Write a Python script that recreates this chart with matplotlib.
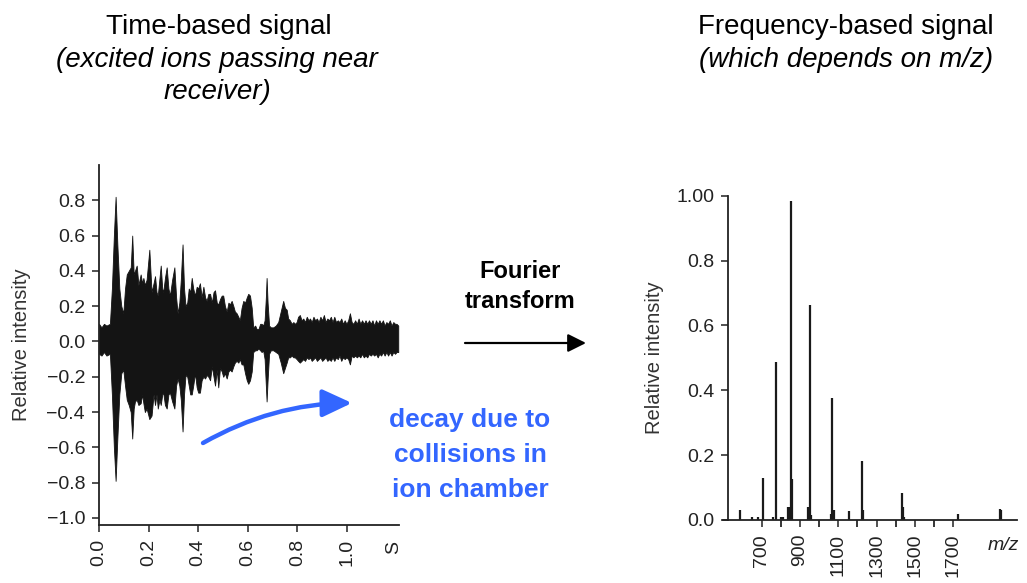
import numpy as np
import matplotlib
matplotlib.use('Agg')
import matplotlib.pyplot as plt
from matplotlib.patches import FancyArrowPatch

plt.rcParams['font.family'] = ['Liberation Sans', 'DejaVu Sans']

# time-domain transient: envelope (seconds, upper, lower)
t_sec = [0.000, 0.010, 0.020, 0.030, 0.044, 0.052, 0.060, 0.067, 0.074, 0.082,
         0.090, 0.098, 0.105, 0.112, 0.120, 0.128, 0.134, 0.140, 0.145, 0.152,
         0.159, 0.168, 0.174, 0.179, 0.185, 0.192, 0.203, 0.212, 0.220, 0.226,
         0.232, 0.237, 0.244, 0.249, 0.255, 0.259, 0.266, 0.273, 0.280, 0.286,
         0.295, 0.304, 0.311, 0.317, 0.324, 0.330, 0.337, 0.343, 0.349, 0.356,
         0.362, 0.368, 0.374, 0.380, 0.387, 0.394, 0.400, 0.407, 0.414, 0.421,
         0.428, 0.434, 0.441, 0.448, 0.455, 0.462, 0.468, 0.475, 0.481, 0.488,
         0.495, 0.501, 0.508, 0.515, 0.522, 0.528, 0.535, 0.542, 0.548, 0.555,
         0.562, 0.568, 0.575, 0.582, 0.589, 0.596, 0.602, 0.609, 0.616, 0.622,
         0.630, 0.636, 0.643, 0.650, 0.656, 0.662, 0.668, 0.673, 0.676, 0.680,
         0.686, 0.693, 0.703, 0.713, 0.723, 0.733, 0.743, 0.750, 0.757, 0.763,
         0.770, 0.777, 0.784, 0.790, 0.797, 0.803, 0.810, 0.817, 0.824, 0.831,
         0.838, 0.845, 0.851, 0.858, 0.865, 0.872, 0.879, 0.886, 0.893, 0.900,
         0.907, 0.914, 0.921, 0.928, 0.935, 0.942, 0.949, 0.956, 0.963, 0.970,
         0.977, 0.984, 0.991, 0.998, 1.005, 1.012, 1.019, 1.026, 1.033, 1.040,
         1.047, 1.054, 1.061, 1.068, 1.075, 1.082, 1.089, 1.096, 1.103, 1.110,
         1.117, 1.124, 1.131, 1.138, 1.145, 1.152, 1.159, 1.166, 1.173, 1.180,
         1.187, 1.194, 1.200, 1.207]
upper = [0.10, 0.08, 0.10, 0.09, 0.10, 0.30, 0.60, 0.82, 0.55, 0.30,
         0.20, 0.16, 0.30, 0.38, 0.40, 0.42, 0.60, 0.38, 0.40, 0.43,
         0.32, 0.38, 0.33, 0.36, 0.32, 0.35, 0.52, 0.28, 0.33, 0.37,
         0.28, 0.26, 0.36, 0.43, 0.30, 0.28, 0.36, 0.42, 0.30, 0.26,
         0.35, 0.42, 0.25, 0.16, 0.22, 0.35, 0.55, 0.30, 0.20, 0.22,
         0.30, 0.28, 0.36, 0.30, 0.26, 0.31, 0.30, 0.33, 0.25, 0.31,
         0.25, 0.23, 0.27, 0.27, 0.22, 0.28, 0.29, 0.22, 0.21, 0.24,
         0.26, 0.26, 0.20, 0.17, 0.22, 0.21, 0.23, 0.20, 0.17, 0.16,
         0.14, 0.12, 0.19, 0.23, 0.22, 0.25, 0.27, 0.26, 0.19, 0.08,
         0.09, 0.07, 0.07, 0.10, 0.10, 0.09, 0.12, 0.25, 0.36, 0.22,
         0.09, 0.08, 0.08, 0.09, 0.11, 0.17, 0.23, 0.19, 0.18, 0.13,
         0.12, 0.10, 0.11, 0.10, 0.11, 0.14, 0.15, 0.12, 0.13, 0.11,
         0.14, 0.12, 0.13, 0.11, 0.14, 0.12, 0.13, 0.11, 0.14, 0.12,
         0.15, 0.11, 0.13, 0.12, 0.14, 0.11, 0.14, 0.11, 0.12, 0.11,
         0.13, 0.10, 0.12, 0.10, 0.12, 0.16, 0.11, 0.10, 0.12, 0.10,
         0.13, 0.10, 0.12, 0.10, 0.12, 0.10, 0.12, 0.10, 0.12, 0.09,
         0.12, 0.10, 0.12, 0.10, 0.12, 0.09, 0.11, 0.10, 0.12, 0.09,
         0.11, 0.10, 0.10, 0.09]
lower = [-0.07, -0.08, -0.06, -0.08, -0.07, -0.30, -0.60, -0.79, -0.55, -0.30,
         -0.18, -0.16, -0.25, -0.33, -0.36, -0.40, -0.55, -0.38, -0.34, -0.33,
         -0.36, -0.35, -0.30, -0.35, -0.40, -0.38, -0.44, -0.42, -0.30, -0.36,
         -0.30, -0.38, -0.33, -0.36, -0.30, -0.29, -0.36, -0.38, -0.30, -0.29,
         -0.34, -0.38, -0.25, -0.21, -0.25, -0.33, -0.51, -0.30, -0.19, -0.20,
         -0.25, -0.30, -0.30, -0.25, -0.18, -0.26, -0.29, -0.29, -0.22, -0.20,
         -0.21, -0.19, -0.20, -0.22, -0.14, -0.20, -0.25, -0.16, -0.26, -0.15,
         -0.17, -0.20, -0.18, -0.21, -0.17, -0.16, -0.17, -0.14, -0.12, -0.11,
         -0.12, -0.10, -0.13, -0.13, -0.18, -0.22, -0.24, -0.22, -0.17, -0.06,
         -0.05, -0.05, -0.04, -0.05, -0.06, -0.05, -0.10, -0.25, -0.34, -0.22,
         -0.07, -0.05, -0.05, -0.06, -0.07, -0.12, -0.18, -0.15, -0.12, -0.09,
         -0.09, -0.08, -0.09, -0.09, -0.10, -0.11, -0.12, -0.11, -0.10, -0.11,
         -0.09, -0.10, -0.09, -0.11, -0.10, -0.09, -0.11, -0.10, -0.09, -0.11,
         -0.10, -0.09, -0.11, -0.10, -0.11, -0.09, -0.11, -0.09, -0.10, -0.08,
         -0.11, -0.09, -0.10, -0.09, -0.10, -0.13, -0.08, -0.09, -0.08, -0.09,
         -0.08, -0.09, -0.07, -0.09, -0.08, -0.09, -0.07, -0.08, -0.07, -0.08,
         -0.07, -0.09, -0.07, -0.08, -0.06, -0.08, -0.06, -0.08, -0.06, -0.08,
         -0.06, -0.07, -0.06, -0.06]

# mass spectrum peaks
mz = [587, 648, 679, 708, 761, 775, 800, 812, 839, 846, 853, 860, 943, 951, 958,
      1062, 1069, 1075, 1154, 1222, 1228, 1431, 1436, 1441, 1723, 1945, 1950]
rel_int = [0.031, 0.010, 0.008, 0.128, 0.010, 0.486, 0.010, 0.010, 0.040, 0.040,
           0.985, 0.125, 0.040, 0.663, 0.015, 0.020, 0.375, 0.030, 0.028, 0.182,
           0.030, 0.084, 0.040, 0.010, 0.020, 0.035, 0.030]

W, H = 1027, 583
fig = plt.figure(figsize=(W / 100, H / 100), dpi=100)

def fx(px):
    return px / W

def fy(py):
    return 1 - py / H

# ---- left: time domain
ax1 = fig.add_axes([fx(99), fy(525), 300 / W, 360 / H])
ax1.fill_between(t_sec, lower, upper, color='#141414', lw=0.6, edgecolor='#141414')
ax1.set_xlim(0, 1.21)
ax1.set_ylim(-1.04, 1.0)
ax1.set_yticks(np.arange(-1.0, 0.81, 0.2))
ax1.set_yticklabels(['\u22121.0', '\u22120.8', '\u22120.6', '\u22120.4', '\u22120.2',
                     '0.0', '0.2', '0.4', '0.6', '0.8'])
ax1.set_xticks([0.0, 0.2, 0.4, 0.6, 0.8, 1.0])
ax1.set_xticklabels(['0.0', '0.2', '0.4', '0.6', '0.8', '1.0'])
ax1.tick_params(axis='x', labelrotation=90)
ax1.text(1.19, -0.045, 'S', transform=ax1.get_xaxis_transform(), rotation=90,
         ha='center', va='top', fontsize=14, color='#222222')
ax1.set_ylabel('Relative intensity', fontsize=14.5, color='#333333')
ax1.yaxis.set_label_coords(-0.225, 0.5)

# ---- right: frequency domain
ax2 = fig.add_axes([fx(723), fy(520), 294 / W, (520 - 195.7) / H])
ax2.vlines(mz, 0, rel_int, color='#1a1a1a', lw=1.6)
ax2.set_xlim(498, 2033)
ax2.set_ylim(0, 1.0)
ax2.spines['left'].set_position(('data', 524))
ax2.set_yticks([0.0, 0.2, 0.4, 0.6, 0.8, 1.0])
ax2.set_yticklabels(['0.0', '0.2', '0.4', '0.6', '0.8', '1.00'])
ax2.set_xticks([700, 900, 1100, 1300, 1500, 1700])
ax2.set_xticks([800, 1000, 1200, 1400, 1600], minor=True)
ax2.tick_params(axis='x', labelrotation=90)
ax2.tick_params(axis='x', which='minor', length=5, width=1.1, direction='out')
ax2.text(1960, -0.08, 'm/z', style='italic', ha='center', va='center', fontsize=14,
         color='#222222')
ax2.set_ylabel('Relative intensity', fontsize=14.5, color='#333333')
ax2.yaxis.set_label_coords(-0.2, 0.5)

for ax in (ax1, ax2):
    ax.spines['top'].set_visible(False)
    ax.spines['right'].set_visible(False)
    ax.spines['left'].set_linewidth(1.3)
    ax.spines['bottom'].set_linewidth(1.3)
    ax.spines['left'].set_color('#222222')
    ax.spines['bottom'].set_color('#222222')
    ax.tick_params(axis='both', which='major', length=5, width=1.1, labelsize=14,
                   pad=5, colors='#222222', direction='out')

# ---- headings
fig.text(fx(219), fy(27), 'Time-based signal', ha='center', va='center', fontsize=20)
fig.text(fx(217), fy(60), '(excited ions passing near', ha='center', va='center',
         fontsize=20, style='italic')
fig.text(fx(217), fy(92), 'receiver)', ha='center', va='center', fontsize=20,
         style='italic')
fig.text(fx(846), fy(27), 'Frequency-based signal', ha='center', va='center', fontsize=20)
fig.text(fx(846), fy(60), '(which depends on m/z)', ha='center', va='center',
         fontsize=20, style='italic')

# ---- Fourier transform arrow
fig.text(fx(520), fy(271), 'Fourier', ha='center', va='center', fontsize=17,
         fontweight='bold')
fig.text(fx(520), fy(302), 'transform', ha='center', va='center', fontsize=17,
         fontweight='bold')
fig.patches.append(FancyArrowPatch((fx(465), fy(343)), (fx(586), fy(343)),
                                   transform=fig.transFigure,
                                   arrowstyle='-|>,head_length=1.1,head_width=0.55',
                                   mutation_scale=10, lw=1.6, color='black',
                                   shrinkA=0, shrinkB=0))

# ---- decay annotation
blue = '#3366ff'
fig.patches.append(FancyArrowPatch((fx(203), fy(443)), (fx(352), fy(403)),
                                   transform=fig.transFigure,
                                   connectionstyle='arc3,rad=-0.13',
                                   arrowstyle='-|>,head_length=0.9,head_width=0.42',
                                   mutation_scale=20, lw=3.2, color=blue,
                                   shrinkA=0, shrinkB=0))
fig.text(fx(470), fy(420), 'decay due to', ha='center', va='center', fontsize=19,
         fontweight='bold', color=blue)
fig.text(fx(470), fy(455), 'collisions in', ha='center', va='center', fontsize=19,
         fontweight='bold', color=blue)
fig.text(fx(470), fy(490), 'ion chamber', ha='center', va='center', fontsize=19,
         fontweight='bold', color=blue)

fig.savefig('out.png', dpi=100)
